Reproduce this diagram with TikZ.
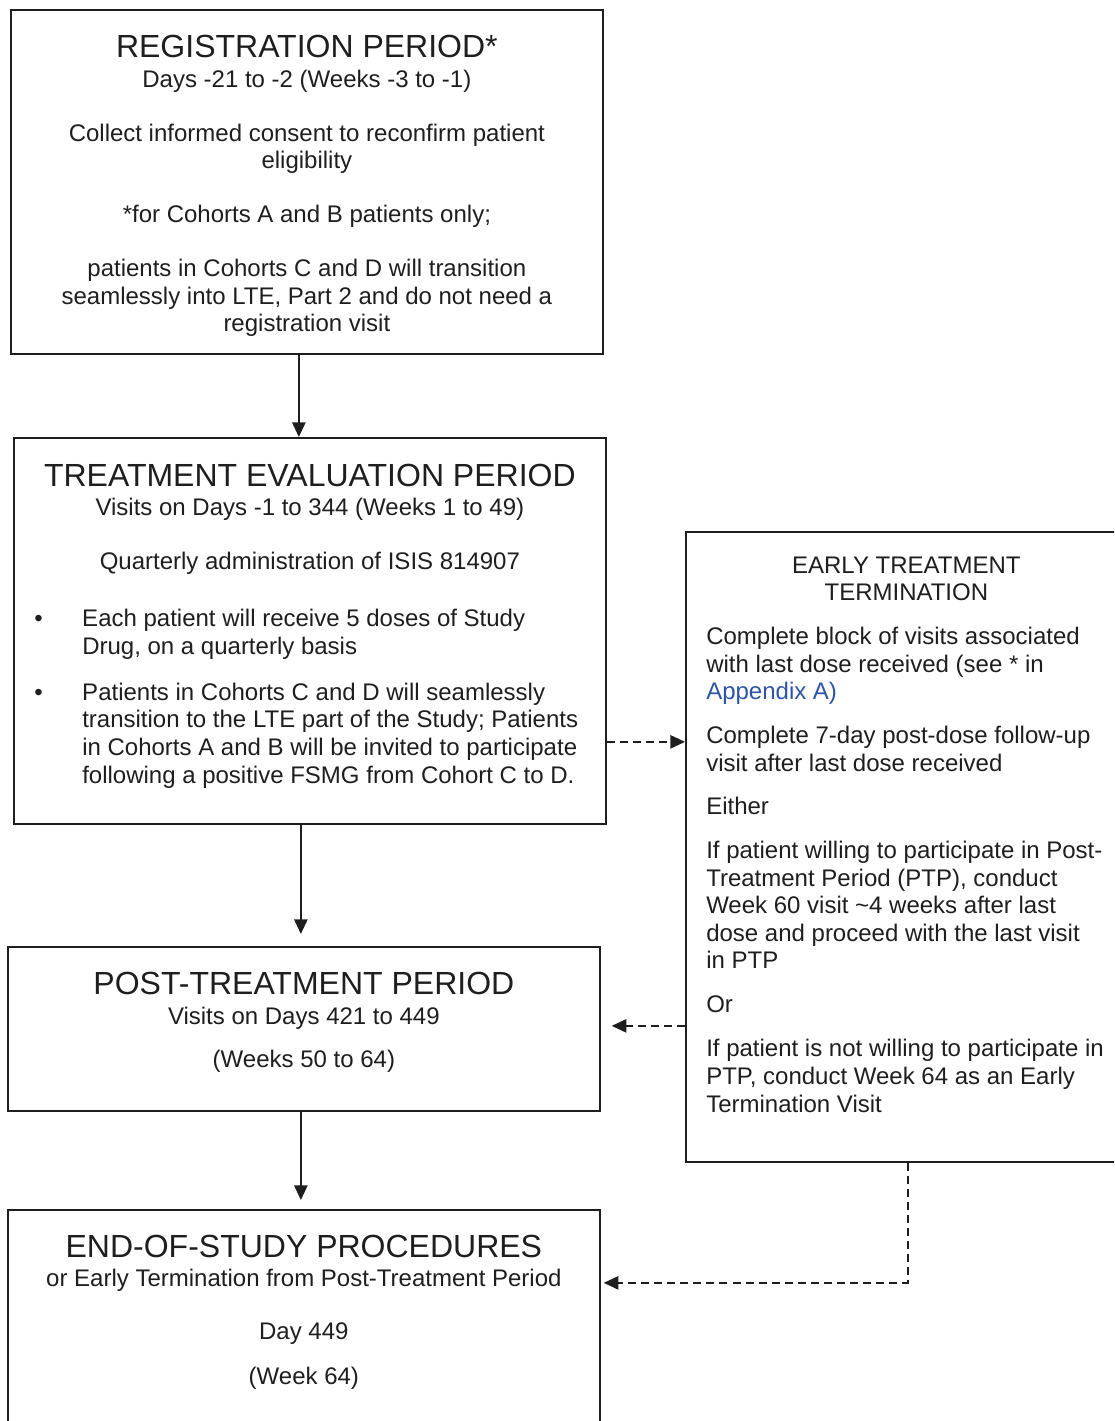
\documentclass[tikz,border=0pt]{standalone}
\usepackage{fontspec}
\setmainfont{Liberation Sans}
\usetikzlibrary{arrows.meta,calc}
\definecolor{ink}{RGB}{30,30,30}
\definecolor{linkblue}{RGB}{46,84,168}
\newcommand{\headfont}{\fontsize{24}{27.6}\selectfont}
\newcommand{\tebullet}{\makebox[36pt][l]{•}}
\newcommand{\teindent}{\hspace*{36pt}}
\begin{document}
\begin{tikzpicture}[x=0.75pt,y=-0.75pt,
  box/.style={draw=ink,line width=1.3pt,anchor=north west,inner sep=0pt,minimum width=444pt},
  boxtext/.style={inner sep=0pt,text=ink,font=\fontsize{18}{20.7}\selectfont},
  arr/.style={draw=ink,line width=1.2pt,-{Triangle[length=11pt,width=10pt]}},
  dasharr/.style={arr,dash pattern=on 6pt off 3.8pt}]
\clip (0,0) rectangle (1114,1421);
\node[box,minimum height=258pt] (reg) at (10,9) {};
\node[box,minimum height=289.5pt] (treat) at (13,437) {};
\node[box,minimum height=123pt] (post) at (7,946) {};
\node[box,minimum height=173.25pt] (endp) at (7,1209) {};
\node[box,minimum width=330.75pt,minimum height=472.5pt] (early) at (685,531) {};

\node[boxtext,align=center,anchor=north] (regtext) at ($(reg.north)+(0,25.5)$) {{\headfont REGISTRATION PERIOD*}\\[1.8pt]
Days -21 to -2 (Weeks -3 to -1)\\[19.8pt]
Collect informed consent to reconfirm patient\\
eligibility\\[19.8pt]
*for Cohorts A and B patients only;\\[19.8pt]
patients in Cohorts C and D will transition\\
seamlessly into LTE, Part 2 and do not need a\\
registration visit};

\node[boxtext,align=center,anchor=north] (treattext) at ($(treat.north)+(0,27.2)$) {{\headfont TREATMENT EVALUATION PERIOD}\\[1pt]
Visits on Days -1 to 344 (Weeks 1 to 49)\\[19.8pt]
Quarterly administration of ISIS 814907};
\node[boxtext,align=left,anchor=north west] (treatlist) at ($(treat.north west)+(21,172)$) {\tebullet Each patient will receive 5 doses of Study\\
\teindent Drug, on a quarterly basis\\[13.8pt]
\tebullet Patients in Cohorts C and D will seamlessly\\
\teindent transition to the LTE part of the Study; Patients\\
\teindent in Cohorts A and B will be invited to participate\\
\teindent following a positive FSMG from Cohort C to D.};

\node[boxtext,align=center,anchor=north] (posttext) at ($(post.north)+(0,26.2)$) {{\headfont POST-TREATMENT PERIOD}\\[1.8pt]
Visits on Days 421 to 449\\[11.6pt]
(Weeks 50 to 64)};

\node[boxtext,align=center,anchor=north] (endtext) at ($(endp.north)+(0,26.2)$) {{\headfont END-OF-STUDY PROCEDURES}\\[1pt]
or Early Termination from Post-Treatment Period\\[19pt]
Day 449\\[13pt]
(Week 64)};

\node[boxtext,align=center,anchor=north] (earlyhead) at ($(early.north)+(0,25.3)$) {EARLY TREATMENT\\
TERMINATION};
\node[boxtext,align=left,anchor=north west] (earlytext) at ($(early.north west)+(21,96)$) {Complete block of visits associated\\
with last dose received (see * in\\
{\color{linkblue}Appendix A)}\\[12.3pt]
Complete 7-day post-dose follow-up\\
visit after last dose received\\[11.5pt]
Either\\[12.3pt]
If patient willing to participate in Post-\\
Treatment Period (PTP), conduct\\
Week 60 visit \textasciitilde 4 weeks after last\\
dose and proceed with the last visit\\
in PTP\\[12.3pt]
Or\\[12.3pt]
If patient is not willing to participate in\\
PTP, conduct Week 64 as an Early\\
Termination Visit};

\draw[arr] ([xshift=-6pt]reg.south) -- ([xshift=-6pt]reg.south |- treat.north);
\draw[arr] ([xshift=-6.75pt]treat.south) -- ($([xshift=-6.75pt]treat.south |- post.north)+(0,-12)$);
\draw[arr] ([xshift=-2.25pt]post.south) -- ($([xshift=-2.25pt]post.south |- endp.north)+(0,-9)$);
\draw[dasharr] ($(treat.east)+(0,111)$) -- ($(early.west)+(0,-105)$);
\draw[dasharr] ($(early.west)+(0,179)$) -- ($(post.east)+(11,-3)$);
\draw[dasharr] ($(early.south)+(1.5,0)$) |- ($(endp.east)+(3,-42.5)$);
\end{tikzpicture}
\end{document}
